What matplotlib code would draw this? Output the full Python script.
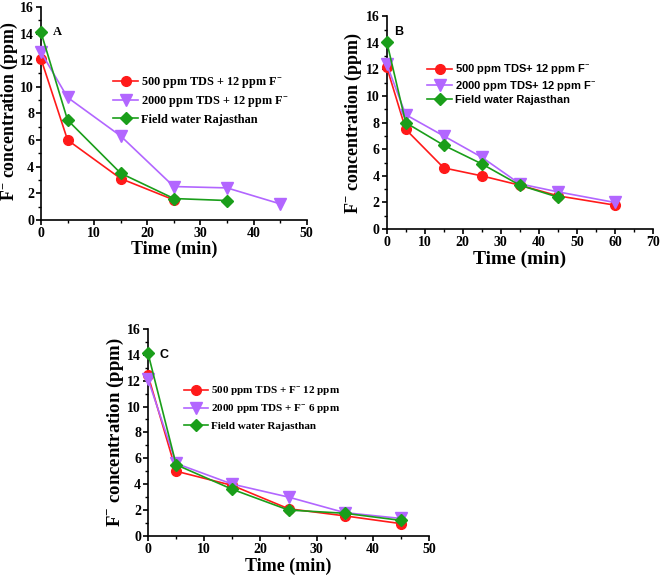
import matplotlib
matplotlib.use("Agg")
import matplotlib.pyplot as plt
from matplotlib.ticker import MultipleLocator

plt.rcParams['font.family'] = ['Liberation Serif', 'DejaVu Serif']
plt.rcParams['font.weight'] = 'bold'
plt.rcParams['mathtext.fontset'] = 'custom'
plt.rcParams['mathtext.bf'] = 'Liberation Serif:bold'
plt.rcParams['mathtext.rm'] = 'Liberation Serif:bold'

# Panel A
tA_500 = [0, 5, 15, 25]
cA_500 = [12.1, 6.0, 3.1, 1.5]
tA_2000 = [0, 5, 15, 25, 35, 45]
cA_2000 = [12.6, 9.2, 6.3, 2.5, 2.4, 1.2]
tA_field = [0, 5, 15, 25, 35]
cA_field = [14.1, 7.5, 3.5, 1.6, 1.45]

# Panel B
tB_500 = [0, 5, 15, 25, 35, 45, 60]
cB_500 = [12.2, 7.5, 4.6, 4.0, 3.3, 2.5, 1.8]
tB_2000 = [0, 5, 15, 25, 35, 45, 60]
cB_2000 = [12.4, 8.6, 7.0, 5.4, 3.4, 2.8, 2.0]
tB_field = [0, 5, 15, 25, 35, 45]
cB_field = [14.1, 8.0, 6.3, 4.9, 3.3, 2.4]

# Panel C
tC_500 = [0, 5, 15, 25, 35, 45]
cC_500 = [12.4, 5.0, 3.9, 2.1, 1.55, 0.95]
tC_2000 = [0, 5, 15, 25, 35, 45]
cC_2000 = [12.1, 5.6, 4.0, 3.0, 1.8, 1.35]
tC_field = [0, 5, 15, 25, 35, 45]
cC_field = [14.1, 5.5, 3.6, 2.0, 1.75, 1.2]

labelsA = ['500 ppm TDS + 12 ppm F$^{\\mathbf{-}}$', '2000 ppm TDS + 12 ppm F$^{\\mathbf{-}}$', 'Field water Rajasthan']
labelsB = ['500 ppm TDS+ 12 ppm F$^{\\mathbf{-}}$', '2000 ppm TDS+ 12 ppm F$^{\\mathbf{-}}$', 'Field water Rajasthan']
labelsC = ['500 ppm TDS + F$^{\\mathbf{-}}$ 12 ppm', '2000 ppm TDS + F$^{\\mathbf{-}}$ 6 ppm', 'Field water Rajasthan']

RED = '#ff1a1a'
PURPLE = '#b266ff'
GREEN = '#1a9e1a'

fig = plt.figure(figsize=(6.61, 5.8), dpi=100)
axA = fig.add_axes([0.062, 0.621, 0.402, 0.367])
axB = fig.add_axes([0.585, 0.605, 0.403, 0.367])
axC = fig.add_axes([0.224, 0.076, 0.425, 0.357])


def style(ax, xmax, xlab_size=13, ylab_size=13.2):
    ax.set_xlim(0, xmax)
    ax.set_ylim(0, 16)
    ax.xaxis.set_major_locator(MultipleLocator(10))
    ax.xaxis.set_minor_locator(MultipleLocator(5))
    ax.yaxis.set_major_locator(MultipleLocator(2))
    ax.yaxis.set_minor_locator(MultipleLocator(1))
    for s in ['top', 'right']:
        ax.spines[s].set_visible(False)
    for s in ['left', 'bottom']:
        ax.spines[s].set_linewidth(1.2)
    ax.tick_params(which='major', direction='out', length=3.5, width=1.2, labelsize=10, pad=1.5)
    ax.tick_params(which='minor', direction='out', length=2, width=1)
    for lab in ax.get_xticklabels() + ax.get_yticklabels():
        lab.set_fontweight('bold')
    ax.set_xlabel('Time (min)', fontsize=xlab_size, fontweight='bold', labelpad=1)
    ax.set_ylabel('F$^{\\mathbf{-}}$ concentration (ppm)', fontsize=ylab_size, fontweight='bold', labelpad=1)


def plot3(ax, t1, c1, t2, c2, t3, c3, labels):
    h1, = ax.plot(t1, c1, '-o', color=RED, lw=1.2, ms=7, label=labels[0], clip_on=False, zorder=3)
    h2, = ax.plot(t2, c2, '-v', color=PURPLE, lw=1.2, ms=8, label=labels[1], clip_on=False, zorder=3)
    h3, = ax.plot(t3, c3, '-D', color=GREEN, lw=1.2, ms=6, label=labels[2], clip_on=False, zorder=4)
    return [h1, h2, h3]


hA = plot3(axA, tA_500, cA_500, tA_2000, cA_2000, tA_field, cA_field, labelsA)
style(axA, 50, ylab_size=12.8)
axA.yaxis.set_label_coords(-0.078, 0.51)
axA.text(2.2, 14.1, 'A', fontsize=9, fontweight='bold', va='center')
axA.legend(handles=hA, loc='upper left', bbox_to_anchor=(0.231, 0.732), frameon=False,
           prop={'family': 'Liberation Serif', 'weight': 'bold', 'size': 8.8},
           handlelength=2.0, labelspacing=0.35, handletextpad=0.3)

hB = plot3(axB, tB_500, cB_500, tB_2000, cB_2000, tB_field, cB_field, labelsB)
style(axB, 70, xlab_size=14, ylab_size=13)
axB.text(2.0, 14.8, 'B', fontsize=9, fontweight='bold', va='center', family='Liberation Sans')
axB.legend(handles=hB, loc='upper left', bbox_to_anchor=(0.115, 0.83), frameon=False,
           prop={'family': 'Liberation Sans', 'weight': 'bold', 'size': 8},
           handlelength=2.2, labelspacing=0.2, handletextpad=0.3)

hC = plot3(axC, tC_500, cC_500, tC_2000, cC_2000, tC_field, cC_field, labelsC)
style(axC, 50, ylab_size=13.5)
axC.text(2.0, 14.0, 'C', fontsize=9, fontweight='bold', va='center', family='Liberation Sans')
axC.legend(handles=hC, loc='upper left', bbox_to_anchor=(0.093, 0.78), frameon=False,
           prop={'family': 'Liberation Serif', 'weight': 'bold', 'size': 8},
           handlelength=2.1, labelspacing=0.45, handletextpad=0.3)

fig.savefig('out.png', dpi=100)
